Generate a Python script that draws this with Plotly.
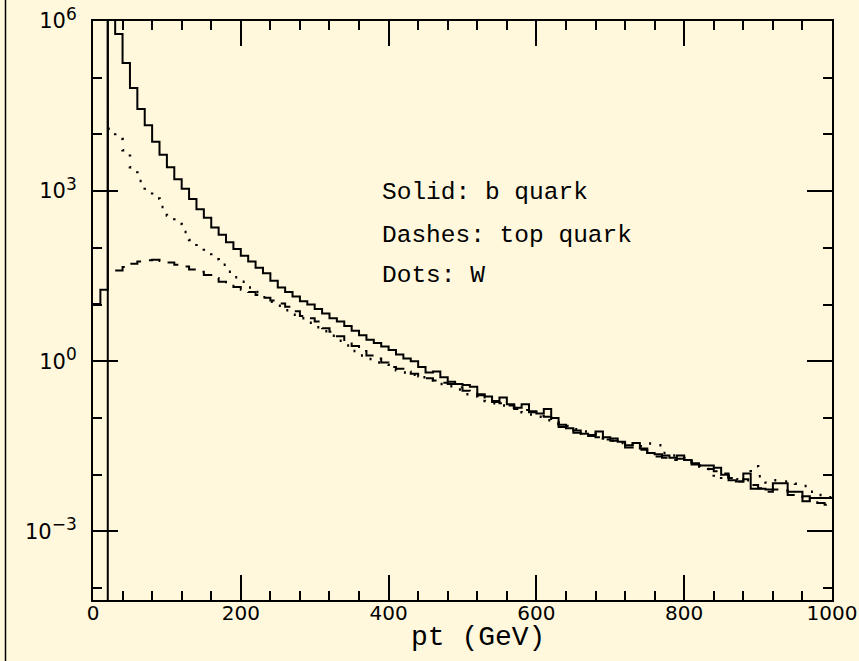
import numpy as np
import plotly.graph_objects as go

# ---------------- data (log10 of entries per 10 GeV bin) ----------------
bin_width = 10
bin_edges_start = 0
bin_edges_stop = 1000

b_quark_log10 = [
    1.01, 1.26, 6.50, 5.77, 5.26, 4.82, 4.45, 4.16, 3.87, 3.64,
    3.42, 3.21, 3.04, 2.86, 2.68, 2.53, 2.36, 2.23, 2.10, 1.98,
    1.86, 1.76, 1.65, 1.55, 1.42, 1.30, 1.22, 1.14, 1.06, 1.00,
    0.92, 0.84, 0.76, 0.70, 0.62, 0.54, 0.46, 0.38, 0.32, 0.26,
    0.20, 0.12, 0.05, 0.00, -0.10, -0.20, -0.18, -0.28, -0.36, -0.40,
    -0.42, -0.45, -0.58, -0.62, -0.70, -0.64, -0.76, -0.82, -0.76, -0.88,
    -0.92, -0.84, -1.00, -1.16, -1.18, -1.26, -1.28, -1.30, -1.24, -1.34,
    -1.36, -1.42, -1.48, -1.44, -1.54, -1.62, -1.64, -1.66, -1.70, -1.66,
    -1.74, -1.80, -1.84, -1.84, -1.88, -2.00, -2.10, -2.12, -1.98, -2.25,
    -2.25, -2.26, -2.15, -2.15, -2.30, -2.30, -2.47, -2.41, -2.41, -2.41,
]

top_quark_log10 = [
    None, None, None, 1.60, 1.66, 1.72, 1.76, 1.78, 1.79, 1.77,
    1.74, 1.70, 1.67, 1.62, 1.58, 1.52, 1.47, 1.40, 1.35, 1.31,
    1.26, 1.22, 1.17, 1.12, 1.07, 1.02, 0.96, 0.88, 0.80, 0.76,
    0.70, 0.58, 0.52, 0.44, 0.34, 0.27, 0.18, 0.10, 0.05, -0.02,
    -0.10, -0.13, -0.18, -0.22, -0.27, -0.30, -0.34, -0.38, -0.40, -0.46,
    -0.52, -0.55, -0.60, -0.64, -0.72, -0.74, -0.78, -0.84, -0.86, -0.90,
    -0.96, -0.98, -1.04, -1.12, -1.16, -1.22, -1.28, -1.32, -1.34, -1.38,
    -1.40, -1.46, -1.52, -1.52, -1.56, -1.62, -1.68, -1.70, -1.74, -1.72,
    -1.78, -1.82, -1.86, -1.90, -1.94, -1.98, -2.06, -2.12, -2.08, -2.18,
    -2.24, -2.30, -2.26, -2.28, -2.36, -2.40, -2.38, -2.44, -2.50, -2.53,
]

w_log10 = [
    None, None, 4.10, 3.92, 3.72, 3.42, 3.18, 3.02, 2.87, 2.72,
    2.57, 2.42, 2.28, 2.14, 2.02, 1.92, 1.80, 1.70, 1.58, 1.48,
    1.40, 1.30, 1.22, 1.13, 1.05, 0.98, 0.90, 0.82, 0.76, 0.68,
    0.60, 0.53, 0.45, 0.36, 0.28, 0.18, 0.10, 0.04, -0.02, -0.06,
    -0.10, -0.16, -0.20, -0.24, -0.28, -0.32, -0.36, -0.40, -0.44, -0.50,
    -0.58, -0.62, -0.64, -0.70, -0.74, -0.78, -0.82, -0.86, -0.90, -0.94,
    -0.98, -1.04, -1.08, -1.10, -1.14, -1.20, -1.24, -1.28, -1.32, -1.36,
    -1.40, -1.44, -1.48, -1.52, -1.50, -1.45, -1.48, -1.62, -1.66, -1.70,
    -1.76, -1.80, -1.84, -1.90, -2.08, -2.00, -2.04, -2.08, -2.10, -1.85,
    -2.03, -2.14, -2.10, -2.12, -2.14, -2.16, -2.20, -2.30, -2.36, -2.40,
]

pt_cut = 20  # vertical cut line

x_tickvals = [0, 200, 400, 600, 800, 1000]
y_tickvals = [1e-3, 1e0, 1e3, 1e6]
y_exponents = ["\u22123", "0", "3", "6"]
y_minor_vals = [1e-4, 1e-2, 1e-1, 1e1, 1e2, 1e4, 1e5]

labels = ["Solid: b quark", "Dashes: top quark", "Dots: W"]
x_title = "pt (GeV)"

# ---------------- build figure ----------------
edges = np.arange(bin_edges_start, bin_edges_stop + bin_width, bin_width)


def step_values(logs):
    vals = [None if v is None else 10 ** v for v in logs]
    return vals + [vals[-1]]


y_ticktext = ["10<sup><span style='font-size:17px'>%s</span></sup>" % e for e in y_exponents]

BG = "#fff8dc"
FONT = "Liberation Mono"
TICKFONT = "DejaVu Sans"

fig = go.Figure()
fig.add_trace(go.Scatter(x=edges, y=step_values(b_quark_log10), mode="lines",
                         line=dict(shape="hv", color="black", width=2), showlegend=False))
fig.add_trace(go.Scatter(x=edges, y=step_values(top_quark_log10), mode="lines",
                         line=dict(shape="hv", color="black", width=2, dash="13px,9px"),
                         showlegend=False))
fig.add_trace(go.Scatter(x=edges, y=step_values(w_log10), mode="lines",
                         line=dict(shape="hv", color="black", width=2.5, dash="2px,10px"),
                         showlegend=False))

fig.add_vline(x=pt_cut, line=dict(color="black", width=2))

for i, (txt, yy) in enumerate(zip(labels, [0.7030, 0.629, 0.560])):
    fig.add_annotation(text=txt, xref="paper", yref="paper", x=0.3877, y=yy,
                       xanchor="left", yanchor="middle", showarrow=False,
                       font=dict(family=FONT, size=24.5, color="black"))

fig.add_annotation(text=x_title, xref="paper", yref="paper", x=0.521, y=-0.064,
                   xanchor="center", yanchor="middle", showarrow=False,
                   font=dict(family=FONT, size=28, color="black"))

# left border line of the page
fig.add_shape(type="line", xref="paper", yref="paper", x0=-0.1184, x1=-0.1184,
              y0=-0.2, y1=1.2, line=dict(color="black", width=1.5))

fig.update_xaxes(range=[0, 1000], showline=True, linewidth=2, linecolor="black",
                 mirror="allticks", ticks="inside", ticklen=25, tickwidth=1.5,
                 tickcolor="black", tickmode="array", tickvals=x_tickvals,
                 minor=dict(dtick=40, ticklen=9, tickwidth=1.5, ticks="inside",
                            tickcolor="black", showgrid=False),
                 showgrid=False, zeroline=False, automargin=False,
                 ticklabelstandoff=-6,
                 tickfont=dict(family=TICKFONT, size=20, color="black"))
fig.update_yaxes(type="log", range=[-4.21, 6], showline=True, linewidth=2,
                 linecolor="black", mirror="allticks", ticks="inside", ticklen=25,
                 tickwidth=1.5, tickcolor="black", tickmode="array",
                 tickvals=y_tickvals, ticktext=y_ticktext,
                 minor=dict(tickmode="array", tickvals=y_minor_vals, ticklen=9,
                            tickwidth=1.5, ticks="inside", tickcolor="black",
                            showgrid=False),
                 showgrid=False, zeroline=False, ticklabelstandoff=10, automargin=False,
                 tickfont=dict(family=TICKFONT, size=21, color="black"))

fig.update_layout(width=859, height=661, paper_bgcolor=BG, plot_bgcolor=BG,
                  margin=dict(l=93, r=27, t=21, b=61, autoexpand=False), showlegend=False)

fig.write_html(
    "out.html",
    config={"displayModeBar": False},
    post_script="document.body.style.margin='0';document.body.style.background='%s';" % BG,
)
